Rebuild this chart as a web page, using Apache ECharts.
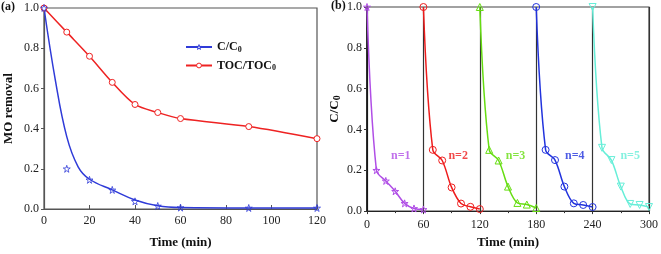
<!DOCTYPE html>
<html><head><meta charset="utf-8">
<script src="https://cdn.jsdelivr.net/npm/echarts@6/dist/echarts.min.js"></script>
<style>html,body{margin:0;padding:0;background:#fff}#c{width:661px;height:254px}</style>
</head><body><div id="c"></div>
<script>
// ---------- Panel (a) data ----------
const aTicksX = [0, 20, 40, 60, 80, 100, 120];
const cTime = [0, 10, 20, 30, 40, 50, 60, 90, 120];
const cVal = [1.0, 0.20, 0.145, 0.095, 0.038, 0.015, 0.007, 0.005, 0.005];
const cFitTime = [0, 5, 10, 15, 20, 30, 40, 50, 60, 90, 120];
const cFitVal = [1.0, 0.64, 0.36, 0.21, 0.148, 0.095, 0.045, 0.016, 0.007, 0.005, 0.005];
const tocTime = [0, 10, 20, 30, 40, 50, 60, 90, 120];
const tocVal = [1.0, 0.88, 0.76, 0.63, 0.52, 0.48, 0.45, 0.41, 0.35];

// ---------- Panel (b) data ----------
const bTicksX = [0, 60, 120, 180, 240, 300];
const n1Time = [0, 10, 20, 30, 40, 50, 60];
const n1Val = [1.0, 0.2, 0.148, 0.097, 0.038, 0.013, 0.008];
const n2Time = [60, 70, 80, 90, 100, 110, 120];
const n2Val = [1.0, 0.30, 0.248, 0.116, 0.037, 0.021, 0.01];
const n3Time = [120, 130, 140, 150, 160, 170, 180];
const n3Val = [1.0, 0.30, 0.248, 0.12, 0.04, 0.032, 0.015];
const n4Time = [180, 190, 200, 210, 220, 230, 240];
const n4Val = [1.0, 0.30, 0.25, 0.12, 0.038, 0.03, 0.02];
const n5Time = [240, 250, 260, 270, 280, 290, 300];
const n5Val = [1.0, 0.31, 0.25, 0.12, 0.035, 0.03, 0.02];
const cycleLabels = ['n=1', 'n=2', 'n=3', 'n=4', 'n=5'];
const cycleLabelX = [36, 97, 158, 221, 280];
const cycleLabelY = [0.27, 0.27, 0.27, 0.27, 0.27];

const zip = (xs, ys) => xs.map((x, i) => [x, ys[i]]);
const SERIF = '"Liberation Serif","DejaVu Serif",serif';
const STAR = 'path://M50,0 L61,35 L98,35 L68,57 L79,91 L50,70 L21,91 L32,57 L2,35 L39,35 Z';
const DTRI = 'path://M0,0 L100,0 L50,87 Z';
const cycleColors = ['#b04ee6', '#ee1c1c', '#66dd11', '#2233dd', '#66eed8'];
const cycleSymbols = [STAR, 'circle', 'triangle', 'circle', DTRI];
const cycleData = [zip(n1Time, n1Val), zip(n2Time, n2Val), zip(n3Time, n3Val), zip(n4Time, n4Val), zip(n5Time, n5Val)];

const axisLbl = { fontFamily: SERIF, fontSize: 12, color: '#222' };
const nameStyle = { fontFamily: SERIF, fontSize: 13, fontWeight: 'bold', color: '#111' };

const chart = echarts.init(document.getElementById('c'), null, { renderer: 'canvas' });
const option = {
  animation: false,
  grid: [
    { left: 44, top: 8, width: 273, height: 204, show: true, borderColor: '#555', borderWidth: 1.2, backgroundColor: 'transparent' },
    { left: 367, top: 7, width: 284, height: 210, show: true, borderColor: '#444', borderWidth: 1.2, backgroundColor: 'transparent' }
  ],
  legend: {
    data: [
      { name: 'C/C0', itemStyle: { color: '#fff', borderColor: '#2f3bd8', borderWidth: 1 } },
      { name: 'TOC/TOC0', itemStyle: { color: '#fff', borderColor: '#ee2222', borderWidth: 1 } }
    ],
    orient: 'vertical', left: 180, top: 36, itemWidth: 26, itemHeight: 6, itemGap: 6,
    formatter: n => n === 'C/C0' ? '{a|C/C}{s|0}' : '{a|TOC/TOC}{s|0}',
    textStyle: {
      rich: {
        a: { fontFamily: SERIF, fontSize: 12, fontWeight: 'bold', color: '#111' },
        s: { fontFamily: SERIF, fontSize: 8, fontWeight: 'bold', color: '#111', padding: [5, 0, 0, 0] }
      }
    }
  },
  xAxis: [
    { gridIndex: 0, type: 'value', min: 0, max: 120, interval: 20,
      axisLine: { lineStyle: { color: '#555', width: 1.2 } },
      axisTick: { inside: true, length: 4, lineStyle: { color: '#555' } },
      axisLabel: Object.assign({ margin: 6 }, axisLbl), splitLine: { show: false },
      name: 'Time (min)', nameLocation: 'middle', nameGap: 27, nameTextStyle: nameStyle },
    { gridIndex: 1, type: 'value', min: 0, max: 300, interval: 60,
      axisLine: { lineStyle: { color: '#222', width: 1.2 } },
      axisTick: { inside: false, length: 3, lineStyle: { color: '#333' } },
      minorTick: { show: true, splitNumber: 2, length: 2, lineStyle: { color: '#333' } },
      axisLabel: Object.assign({ margin: 8 }, axisLbl),
      splitLine: { show: true, lineStyle: { color: '#333', width: 1.2 } },
      name: 'Time (min)', nameLocation: 'middle', nameGap: 23, nameTextStyle: nameStyle }
  ],
  yAxis: [
    { gridIndex: 0, type: 'value', min: 0, max: 1, interval: 0.2,
      axisLine: { show: true, lineStyle: { color: '#555', width: 1.2 } },
      axisTick: { show: true, inside: false, length: 3, lineStyle: { color: '#555' } },
      axisLabel: Object.assign({ margin: 5, formatter: v => v.toFixed(1) }, axisLbl), splitLine: { show: false },
      name: 'MO removal', nameLocation: 'middle', nameGap: 29, nameTextStyle: nameStyle },
    { gridIndex: 1, type: 'value', min: 0, max: 1, interval: 0.2,
      axisLine: { show: true, lineStyle: { color: '#111', width: 1.5 } },
      axisTick: { show: true, inside: false, length: 3, lineStyle: { color: '#333' } },
      axisLabel: Object.assign({ margin: 5, formatter: v => v.toFixed(1) }, axisLbl), splitLine: { show: false },
      name: '{a|C/C}{s|0}', nameLocation: 'middle', nameGap: 25,
      nameTextStyle: { rich: {
        a: { fontFamily: SERIF, fontSize: 13, fontWeight: 'bold', color: '#111' },
        s: { fontFamily: SERIF, fontSize: 10, fontWeight: 'bold', color: '#111', padding: [5, 0, 0, 0] } } } }
  ],
  graphic: [
    { type: 'text', left: 1, top: 1, style: { text: '(a)', font: 'bold 12px ' + SERIF, fill: '#111' } },
    { type: 'text', left: 331, top: 0, style: { text: '(b)', font: 'bold 12px ' + SERIF, fill: '#111' } }
  ],
  series: [
    { name: 'C/C0', type: 'line', xAxisIndex: 0, yAxisIndex: 0, data: zip(cFitTime, cFitVal), smooth: 0.4,
      showSymbol: false, symbol: STAR, symbolSize: 7, lineStyle: { color: '#2f3bd8', width: 1.5 },
      itemStyle: { color: '#fff', borderColor: '#2f3bd8', borderWidth: 1 }, z: 3 },
    { name: 'C/C0 pts', type: 'scatter', xAxisIndex: 0, yAxisIndex: 0, data: zip(cTime, cVal),
      symbol: STAR, symbolSize: 7, itemStyle: { color: 'rgba(255,255,255,0)', borderColor: '#2f3bd8', borderWidth: 1 }, z: 4 },
    { name: 'TOC/TOC0', type: 'line', xAxisIndex: 0, yAxisIndex: 0, data: zip(tocTime, tocVal), smooth: 0.3,
      symbol: 'circle', symbolSize: 6, lineStyle: { color: '#ee2222', width: 1.5 },
      itemStyle: { color: '#fff', borderColor: '#ee2222', borderWidth: 1 }, z: 3 },
    ...cycleData.map((d, i) => ({
      name: cycleLabels[i], type: 'line', xAxisIndex: 1, yAxisIndex: 1, data: d, smooth: 0.35,
      symbol: cycleSymbols[i], symbolSize: 7, lineStyle: { color: cycleColors[i], width: 1.5 },
      itemStyle: { color: 'rgba(255,255,255,0)', borderColor: cycleColors[i], borderWidth: 1 }, z: 3
    })),
    { name: 'cycle labels', type: 'scatter', xAxisIndex: 1, yAxisIndex: 1, symbolSize: 0, z: 5,
      data: cycleLabels.map((t, i) => ({ value: [cycleLabelX[i], cycleLabelY[i]],
        label: { show: true, formatter: t, position: 'inside', color: cycleColors[i],
          fontFamily: SERIF, fontSize: 12, fontWeight: 'bold' } })) }
  ]
};
chart.setOption(option);
</script></body></html>
